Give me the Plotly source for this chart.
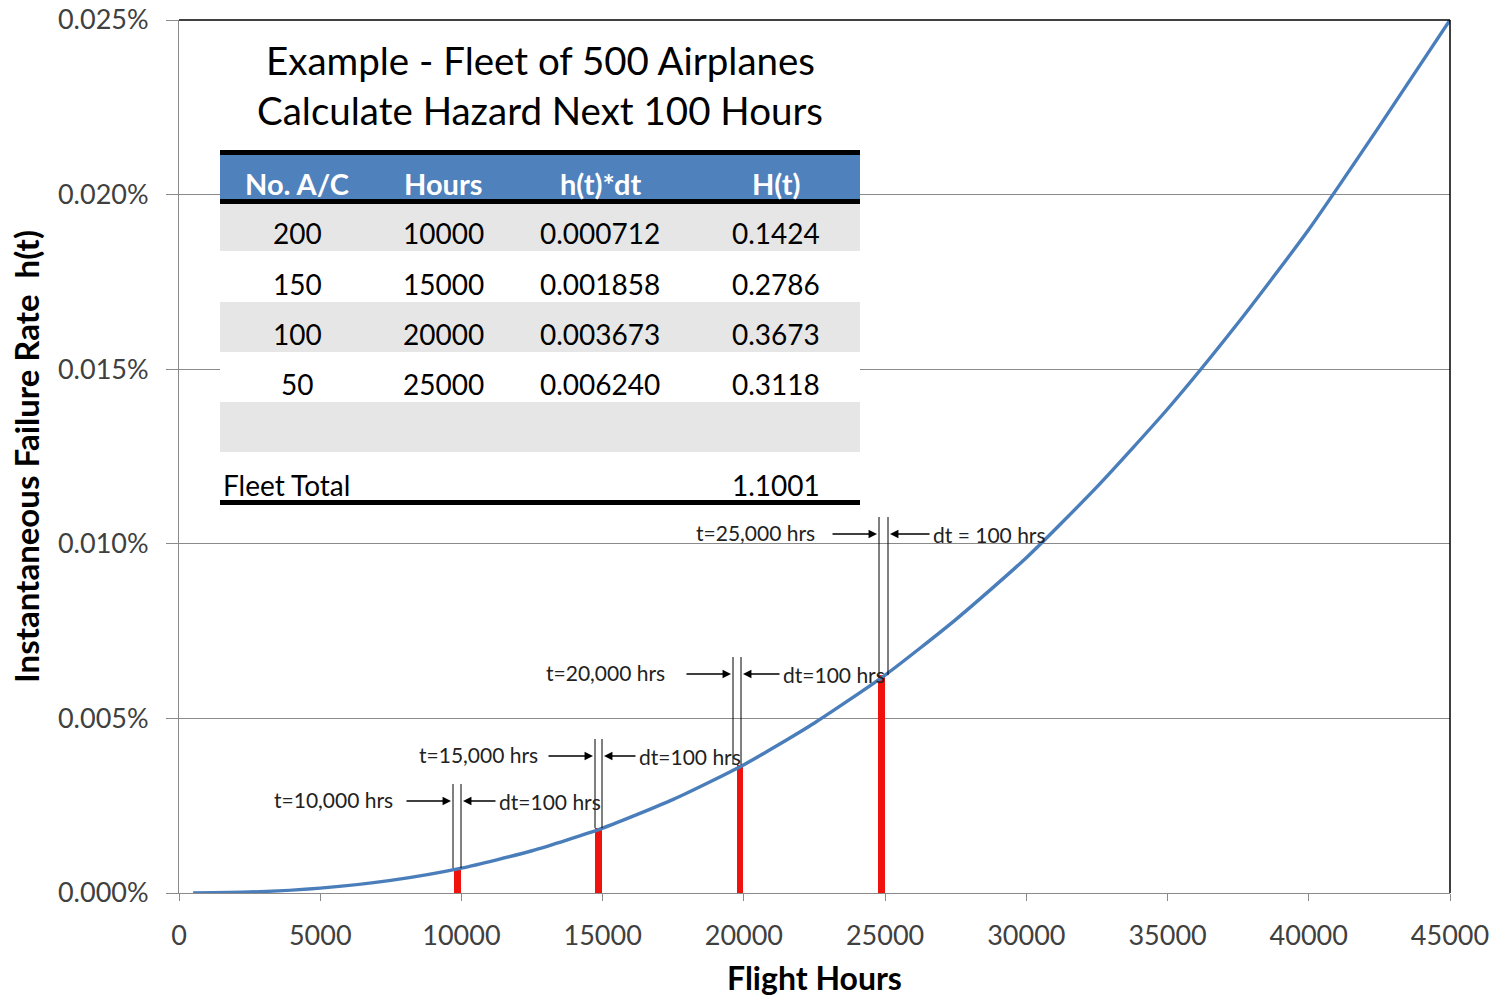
import plotly.graph_objects as go

# ---- data -------------------------------------------------------------
# instantaneous failure rate h(t) (fraction per flight hour) along the curve
flight_hours = [500, 2500, 5000, 7500, 10000, 12500, 15000, 17500, 20000,
                22500, 25000, 27500, 30000, 32500, 35000, 37500, 40000,
                42500, 45000]
h_rate = [0.0, 2.7e-7, 1.4e-6, 3.6e-6, 7.12e-6, 1.21e-5, 1.858e-5, 2.68e-5,
          3.673e-5, 4.87e-5, 6.24e-5, 7.83e-5, 9.6e-5, 1.163e-4, 1.386e-4,
          1.633e-4, 1.90e-4, 2.196e-4, 2.50e-4]

# fleet table
table_cols = ["No. A/C", "Hours", "h(t)*dt", "H(t)"]
num_aircraft = [200, 150, 100, 50]
fleet_hours = [10000, 15000, 20000, 25000]
h_dt = ["0.000712", "0.001858", "0.003673", "0.006240"]
cum_hazard = ["0.1424", "0.2786", "0.3673", "0.3118"]
fleet_total = "1.1001"
dt_hours = 100

# axis ticks
x_ticks = [0, 5000, 10000, 15000, 20000, 25000, 30000, 35000, 40000, 45000]
y_ticks = [0, 0.00005, 0.0001, 0.00015, 0.0002, 0.00025]

# ---- geometry helpers (pixel -> paper / data) --------------------------
W, H = 1497, 997
L, R, T, B = 179, 1450, 20, 893
X_MAX, Y_MAX = 45000, 0.00025


def px(xp):
    return (xp - L) / (R - L)


def py(yp):
    return (B - yp) / (B - T)


def dx(xp):
    return (xp - L) / (R - L) * X_MAX


def dy(yp):
    return (B - yp) / (B - T) * Y_MAX


FONT = "Lato"
BLUE_LINE = "#4A7EBB"
RED = "#F0120C"
GRID = "#8A8A8A"

fig = go.Figure()

fig.add_trace(go.Scatter(
    x=flight_hours, y=h_rate, mode="lines",
    line=dict(color=BLUE_LINE, width=3.4, shape="spline", smoothing=0.6),
    hoverinfo="skip", showlegend=False))

# hazard slice for each fleet group: h(t) = (h(t)*dt) / dt
fig.add_trace(go.Bar(
    x=fleet_hours, y=[float(v) / dt_hours for v in h_dt],
    width=240, offset=-260, marker=dict(color=RED, line=dict(width=0)),
    hoverinfo="skip", showlegend=False))

shapes = []
annotations = []

# top and right frame lines
shapes.append(dict(type="line", xref="paper", yref="paper", x0=0, x1=1, y0=1, y1=1,
                   line=dict(color="black", width=1.5), layer="above"))
shapes.append(dict(type="line", xref="paper", yref="paper", x0=1, x1=1, y0=0, y1=1,
                   line=dict(color="black", width=1.5), layer="above"))

# ---- dt callouts ---------------------------------------------------------
# (left line px, right line px, arrow row px, top-label right edge px,
#  dt-label left edge px, dt label text)
callouts = [
    (453, 461, 801, 395, 497, "dt=100 hrs"),
    (595, 602, 756, 540, 637, "dt=100 hrs"),
    (733, 741, 674, 667, 781, "dt=100 hrs"),
    (879, 888, 534, 817, 931, "dt = 100 hrs"),
]
for (lx, rx, ay_px, t_right, dt_left, dt_text), hrs, v in zip(callouts, fleet_hours, h_dt):
    h_val = float(v) / dt_hours
    top = dy(ay_px - 17)
    for xline in (lx, rx):
        shapes.append(dict(type="line", xref="x", yref="y",
                           x0=dx(xline), x1=dx(xline), y0=h_val, y1=top,
                           line=dict(color="black", width=1), layer="above"))
    # t arrow (pointing right to left guide line)
    annotations.append(dict(x=dx(lx - 2), y=dy(ay_px), xref="x", yref="y",
                            ax=-46, ay=0, text="", showarrow=True,
                            arrowhead=2, arrowsize=1.3, arrowwidth=1.3,
                            arrowcolor="black"))
    annotations.append(dict(x=px(t_right), y=py(ay_px - 2), xref="paper", yref="paper",
                            text=f"t={hrs:,} hrs", showarrow=False,
                            xanchor="right", yanchor="middle",
                            font=dict(family=FONT, size=21, color="#222222")))
    # dt arrow (pointing left to right guide line)
    annotations.append(dict(x=dx(rx + 2), y=dy(ay_px), xref="x", yref="y",
                            ax=(dt_left - rx - 2), ay=0, text="", showarrow=True,
                            arrowhead=2, arrowsize=1.3, arrowwidth=1.3,
                            arrowcolor="black"))
    annotations.append(dict(x=px(dt_left), y=py(ay_px), xref="paper", yref="paper",
                            text=dt_text, showarrow=False,
                            xanchor="left", yanchor="middle",
                            font=dict(family=FONT, size=21, color="#222222")))

# ---- fleet table ----------------------------------------------------------
TX0, TX1 = 220, 860
col_centers = [297, 443, 600, 776]


def rect(y0p, y1p, color):
    shapes.append(dict(type="rect", xref="paper", yref="paper",
                       x0=px(TX0), x1=px(TX1), y0=py(y1p), y1=py(y0p),
                       fillcolor=color, line=dict(width=0), layer="above"))


rect(150, 505, "white")
rect(150, 155, "black")
rect(155, 199, "#4F81BD")
rect(199, 204, "black")
row_bands = [(204, 251), (251, 302), (302, 352), (352, 402), (402, 452)]
for i, (a, b) in enumerate(row_bands):
    rect(a, b, "#E6E6E6" if i % 2 == 0 else "white")
rect(500, 505, "black")

for name, cx in zip(table_cols, col_centers):
    annotations.append(dict(x=px(cx), y=py(183), xref="paper", yref="paper",
                            text=f"<b>{name}</b>", showarrow=False,
                            xanchor="center", yanchor="middle",
                            font=dict(family=FONT, size=29, color="white")))

row_centers = [233, 284, 334, 384]
for rc, n, hr, hd, hz in zip(row_centers, num_aircraft, fleet_hours, h_dt, cum_hazard):
    for val, cx in zip([str(n), str(hr), hd, hz], col_centers):
        annotations.append(dict(x=px(cx), y=py(rc), xref="paper", yref="paper",
                                text=val, showarrow=False,
                                xanchor="center", yanchor="middle",
                                font=dict(family=FONT, size=28, color="black")))

annotations.append(dict(x=px(221), y=py(485), xref="paper", yref="paper",
                        text="Fleet Total", showarrow=False,
                        xanchor="left", yanchor="middle",
                        font=dict(family=FONT, size=28, color="black")))
annotations.append(dict(x=px(col_centers[3]), y=py(485), xref="paper", yref="paper",
                        text=fleet_total, showarrow=False,
                        xanchor="center", yanchor="middle",
                        font=dict(family=FONT, size=28, color="black")))

# ---- chart heading --------------------------------------------------------
for line_text, yc in [("Example - Fleet of 500 Airplanes", 60),
                      ("Calculate Hazard Next 100 Hours", 110)]:
    annotations.append(dict(x=px(540), y=py(yc), xref="paper", yref="paper",
                            text=line_text, showarrow=False,
                            xanchor="center", yanchor="middle",
                            font=dict(family=FONT, size=38.5, color="black")))

fig.update_layout(
    width=W, height=H,
    margin=dict(l=L, r=W - R, t=T, b=H - B, autoexpand=False),
    paper_bgcolor="white", plot_bgcolor="white",
    showlegend=False, bargap=0,
    shapes=shapes, annotations=annotations,
    xaxis=dict(range=[0, X_MAX], tickvals=x_ticks, ticktext=[str(v) for v in x_ticks],
               automargin=False,
               showgrid=False, zeroline=False, showline=True, linecolor=GRID, linewidth=1,
               ticks="outside", ticklen=7, tickcolor=GRID, ticklabelstandoff=12,
               tickfont=dict(family=FONT, size=27, color="#404040"),
               title=dict(text="<b>Flight Hours</b>", standoff=18,
                          font=dict(family=FONT, size=32, color="black"))),
    yaxis=dict(range=[0, Y_MAX], tickvals=y_ticks, tickformat=".3%",
               automargin=False,
               showgrid=True, gridcolor=GRID, gridwidth=1,
               zeroline=False, showline=True, linecolor=GRID, linewidth=1,
               ticks="outside", ticklen=12, tickcolor=GRID, ticklabelstandoff=12,
               tickfont=dict(family=FONT, size=27, color="#404040"),
               title=dict(text="<b>Instantaneous Failure Rate\u00a0 h(t)</b>", standoff=8,
                          font=dict(family=FONT, size=33, color="black"))),
)

fig.write_html("out.html")
